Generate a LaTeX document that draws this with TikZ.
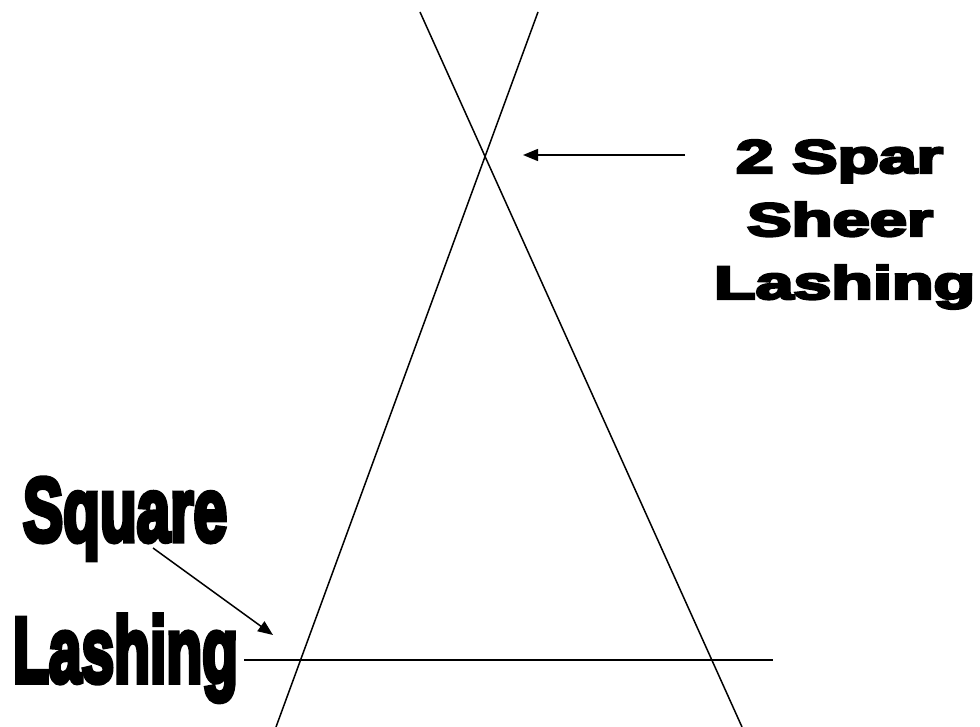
\documentclass[tikz,border=0pt]{standalone}
\usepackage{fontspec}
\usepackage{graphicx}
\usetikzlibrary{arrows.meta}
\newfontfamily\blackfont{Liberation Sans}[UprightFont={* Bold}, FakeBold=5]
\newfontfamily\impactfont{Liberation Sans}[UprightFont={* Bold}, FakeBold=6]
\tikzset{
  spar/.style={line width=1.5pt, black},
  pointer/.style={line width=1.5pt, black, -{Triangle[length=15pt,width=12pt]}},
  lbl/.style={inner sep=0pt, outer sep=0pt, anchor=base west}
}
\begin{document}
\begin{tikzpicture}[x=1pt,y=-1pt]
\useasboundingbox (0,0) rectangle (980,727);
% spars
\coordinate (atop) at (420,12);
\coordinate (abot) at (742,727);
\coordinate (btop) at (538,12);
\coordinate (bbot) at (276,727);
\coordinate (hl) at (244,660);
\coordinate (hr) at (773,660);
\draw[spar] (atop) -- (abot);
\draw[spar] (btop) -- (bbot);
\draw[spar] (hl) -- (hr);
% labels
\node[lbl] (sp1) at (736,173) {\resizebox{207pt}{33pt}{\blackfont 2 Spar}};
\node[lbl] (sp2) at (747,236) {\resizebox{186pt}{34pt}{\blackfont Sheer}};
\node[lbl] (sp3) at (714,299) {\resizebox{261pt}{34pt}{\blackfont Lashing}};
\node[lbl] (sq1) at (23,541) {\resizebox{204pt}{63pt}{\impactfont Square}};
\node[lbl] (sq2) at (13,682) {\resizebox{225pt}{67pt}{\impactfont Lashing}};
% arrows
\coordinate (p1s) at (685,155);
\coordinate (p1e) at (523,155);
\coordinate (p2s) at (153,548);
\coordinate (p2e) at (273,635);
\draw[pointer] (p1s) -- (p1e);
\draw[pointer] (p2s) -- (p2e);
\end{tikzpicture}
\end{document}
